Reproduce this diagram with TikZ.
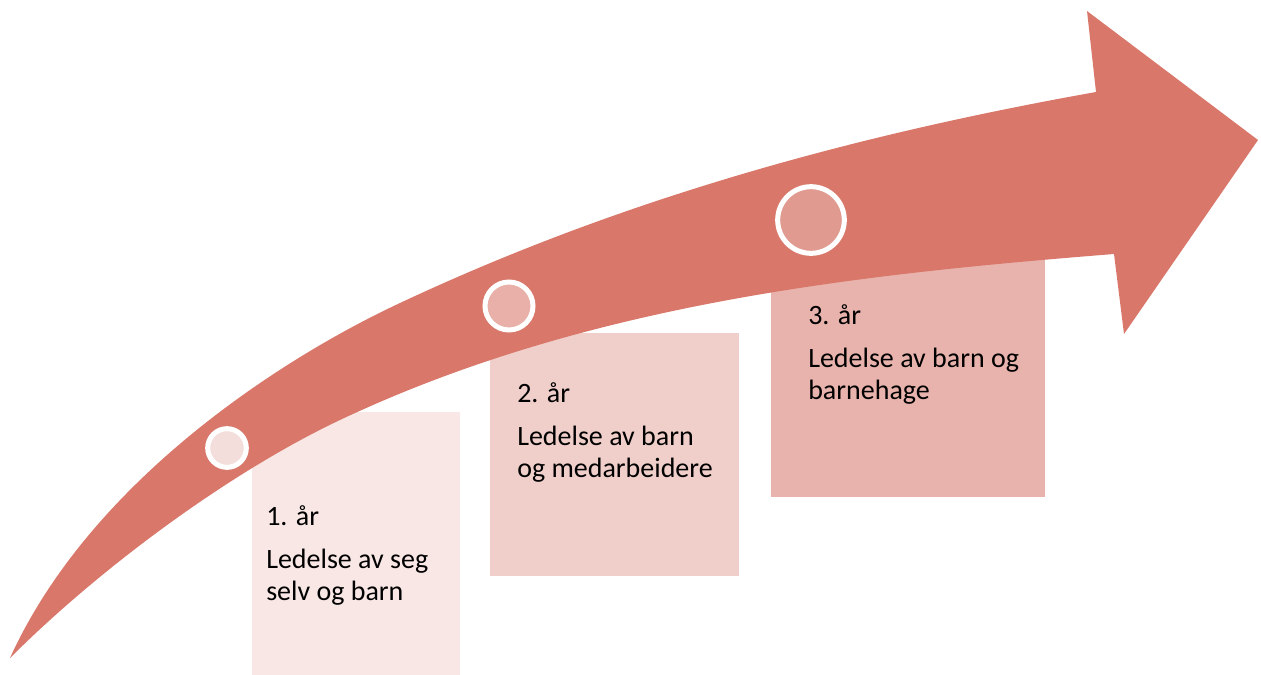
\documentclass[tikz,border=0pt]{standalone}
\usepackage{fontspec}
\setmainfont{Carlito}
\definecolor{arrowred}{HTML}{D9786A}
\definecolor{step1}{HTML}{F8E7E4}
\definecolor{step2}{HTML}{F0CFCA}
\definecolor{step3}{HTML}{E8B3AC}
\definecolor{dot1}{HTML}{F3DEDC}
\definecolor{dot2}{HTML}{E8B0A8}
\definecolor{dot3}{HTML}{E09A90}

\begin{document}
\begin{tikzpicture}[x=0.75pt, y=-0.75pt,
		stepdot/.style = {draw=white, circle, line width=3.75pt, inner sep=0pt},
		yeartext/.style = {anchor=base west, align=left, inner sep=0pt, font=\fontsize{21}{24}\selectfont}]
	\useasboundingbox (0,0) rectangle (1261,675);
	
	\fill[step1] (252,412) rectangle (460,675);
	\fill[step2] (490,333) rectangle (739,576);
	\fill[step3] (771,258) rectangle (1045,497);
	
	% arrow: upper edge, head, lower edge back to the tail
	\fill[arrowred] (10,658) .. controls (90,482) and (280,359) .. (400,303)
		.. controls (630,195) and (866,133) .. (1096,92)
		-- (1087,11) -- (1258,140) -- (1124,334) -- (1114,254)
		.. controls (864,274) and (590,302) .. (340,420)
		.. controls (230,472) and (100,568) .. cycle;
	
	\node[stepdot, fill=dot1, minimum size=29pt] (d1) at (227,448) {};
	\node[stepdot, fill=dot2, minimum size=36pt] (d2) at (509,306) {};
	\node[stepdot, fill=dot3, minimum size=50pt] (d3) at (811,220) {};
	
	\node[yeartext] (t1) at (266,600) {1. år\\[8pt]Ledelse av seg\\selv og barn};
	\node[yeartext] (t2) at (517,477) {2. år\\[8pt]Ledelse av barn\\og medarbeidere};
	\node[yeartext] (t3) at (808,399) {3. år\\[8pt]Ledelse av barn og\\barnehage};
	
\end{tikzpicture}
\end{document}
